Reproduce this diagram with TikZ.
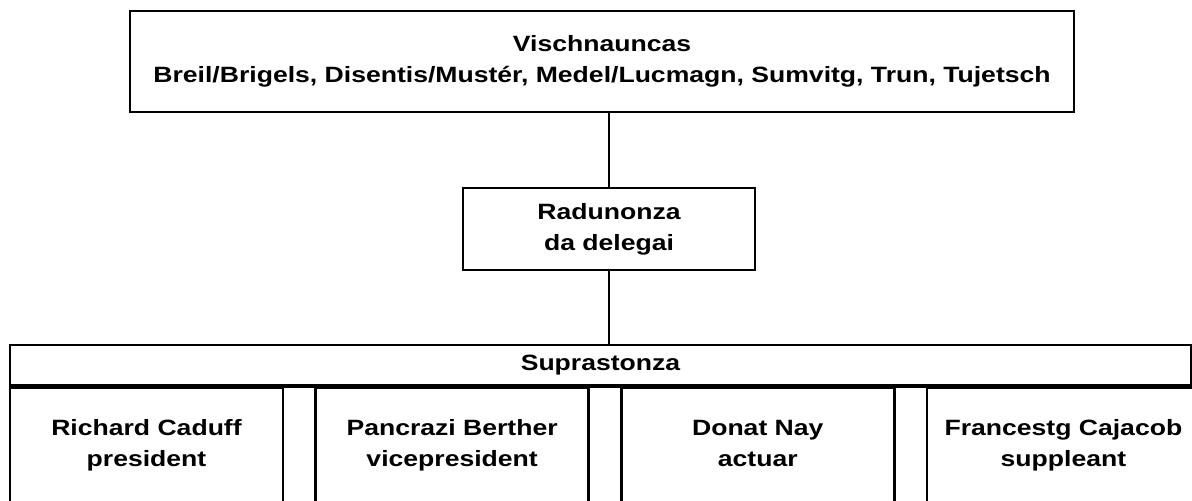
\documentclass[tikz,border=0pt]{standalone}
\usepackage{fontspec}
\setmainfont{Liberation Sans}[FakeStretch=1.2]
\usepackage{tikz}
\usetikzlibrary{positioning}
\tikzset{
  orgchart/.style={
    font={\fontsize{12.6}{17.5}\selectfont\bfseries},
    line width=1.5pt,
    every node/.style={align=center, inner sep=0pt},
    node distance=0.6cm
  },
  orgbox/.style={draw, rectangle},
  orgcell/.style={orgbox, minimum width=5.46cm, minimum height=2.4cm,
    execute at end node=\strut}
}

\begin{document}
\begin{tikzpicture}[orgchart]
\useasboundingbox (0,0) rectangle (23.84,-10.02);
\node[orgbox, minimum width=18.88cm, minimum height=2.02cm] (vischnauncas) at (12.04,-1.23)
  {Vischnauncas\\Breil/Brigels, Disentis/Mustér, Medel/Lucmagn, Sumvitg, Trun, Tujetsch};
\node[orgbox, minimum width=5.84cm, minimum height=1.64cm] (radunonza) at (12.18,-4.58)
  {Radunonza\\da delegai};
\node[orgbox, minimum width=23.62cm, minimum height=0.8cm] (suprastonza) at (12.01,-7.3)
  {Suprastonza};
\node[orgcell, below right=0pt and 0pt of suprastonza.south west, anchor=north west] (president)
  {Richard Caduff\\president};
\node[orgcell, right=of president] (vicepresident) {Pancrazi Berther\\vicepresident};
\node[orgcell, right=of vicepresident] (actuar) {Donat Nay\\actuar};
\node[orgcell, right=of actuar] (suppleant) {Francestg Cajacob\\suppleant};
\draw (president.north east) -- (vicepresident.north west);
\draw (president.south east) -- (vicepresident.south west);
\draw (vicepresident.north east) -- (actuar.north west);
\draw (vicepresident.south east) -- (actuar.south west);
\draw (actuar.north east) -- (suppleant.north west);
\draw (actuar.south east) -- (suppleant.south west);
\draw (radunonza.north) -- (radunonza.north |- vischnauncas.south);
\draw (radunonza.south) -- (radunonza.south |- suprastonza.north);
\end{tikzpicture}
\end{document}
